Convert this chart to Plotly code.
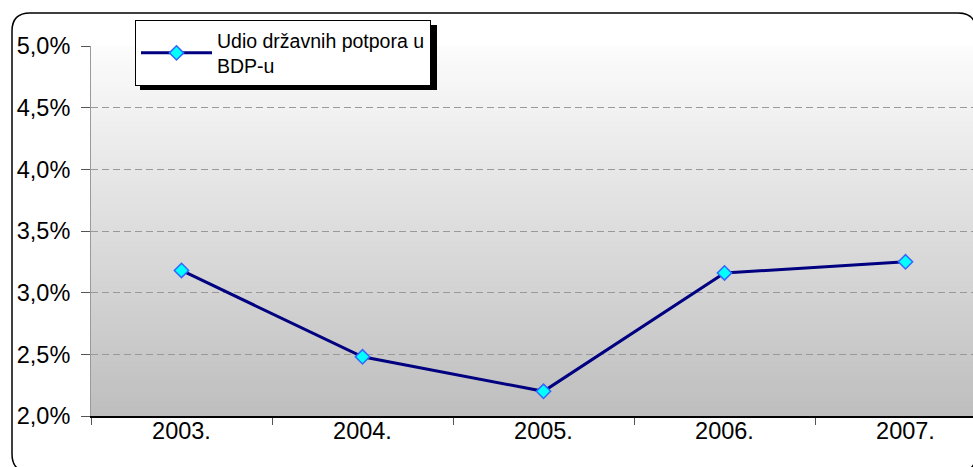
import plotly.graph_objects as go

# ---- data ----
years = ["2003.", "2004.", "2005.", "2006.", "2007."]
share_pct = [3.18, 2.48, 2.20, 3.16, 3.25]
series_name = "Udio državnih potpora u<br>BDP-u"
y_tick_vals = [2.0, 2.5, 3.0, 3.5, 4.0, 4.5, 5.0]
y_tick_labels = ["2,0%", "2,5%", "3,0%", "3,5%", "4,0%", "4,5%", "5,0%"]

W, H = 973, 467
L, T, B = 91, 46, 51
PW, PH = W - L, H - T - B


def xp(px):
    return (px - L) / PW


def yp(py):
    return (H - B - py) / PH


fig = go.Figure()
fig.add_trace(go.Scatter(
    x=years, y=share_pct, mode="lines+markers", name=series_name,
    line=dict(color="#000080", width=3),
    marker=dict(symbol="diamond", size=11, color="#00FFFF",
                line=dict(color="#3366FF", width=1.5)),
))

shapes = []
# vertical gradient background in plot area
N = 74
top_c, bot_c = 252, 190
for i in range(N):
    c = round(top_c + (bot_c - top_c) * (i + 0.5) / N)
    shapes.append(dict(type="rect", xref="x domain", yref="y domain",
                       x0=0, x1=1, y0=1 - (i + 1) / N, y1=1 - i / N,
                       fillcolor=f"rgb({c},{c},{c})", line=dict(width=0),
                       layer="below"))

# rounded chart border
bl, bt, br, bb, r = 12, 13, 976, 472, 18
path = (f"M {xp(bl)},{yp(bt + r)} Q {xp(bl)},{yp(bt)} {xp(bl + r)},{yp(bt)} "
        f"L {xp(br - r)},{yp(bt)} Q {xp(br)},{yp(bt)} {xp(br)},{yp(bt + r)} "
        f"L {xp(br)},{yp(bb - r)} Q {xp(br)},{yp(bb)} {xp(br - r)},{yp(bb)} "
        f"L {xp(bl + r)},{yp(bb)} Q {xp(bl)},{yp(bb)} {xp(bl)},{yp(bb - r)} Z")
shapes.append(dict(type="path", xref="paper", yref="paper", path=path,
                   line=dict(color="black", width=1.5), layer="above"))

# legend shadow
shapes.append(dict(type="rect", xref="paper", yref="paper",
                   x0=xp(140), x1=xp(437), y0=yp(90), y1=yp(25),
                   fillcolor="black", line=dict(width=0), layer="above"))

fig.update_layout(
    width=W, height=H,
    margin=dict(l=L, r=0, t=T, b=B, pad=0),
    paper_bgcolor="white",
    plot_bgcolor="rgba(0,0,0,0)",
    font=dict(family="Liberation Sans, Arial, sans-serif", color="black"),
    separators=",.",
    showlegend=True,
    legend=dict(
        x=xp(135), y=yp(20), xanchor="left", yanchor="top",
        bgcolor="white", bordercolor="black", borderwidth=1,
        font=dict(size=19.5, family="Liberation Sans, Arial, sans-serif"),
        itemwidth=71, tracegroupgap=0,
    ),
    shapes=shapes,
    xaxis=dict(
        type="category", range=[-0.5, -0.5 + PW / 181.0],
        showgrid=False, showline=True, linecolor="black", linewidth=1.5,
        ticks="outside", tickson="boundaries", ticklen=7, tickcolor="#555555",
        tickwidth=1, tickfont=dict(size=23.5), ticklabelstandoff=-7,
        fixedrange=True,
    ),
    yaxis=dict(
        range=[2.0, 5.0], tickvals=y_tick_vals, ticktext=y_tick_labels,
        showgrid=True, gridcolor="#999999", gridwidth=1, griddash="7px,4px",
        showline=True, linecolor="#9a9a9a", linewidth=1,
        ticks="outside", ticklen=9, tickcolor="#555555", tickwidth=1,
        tickfont=dict(size=23.5), ticklabelstandoff=6, zeroline=False,
        fixedrange=True,
    ),
)

fig.write_html(
    "out.html",
    config={"displayModeBar": False},
    post_script="document.body.style.margin='0';document.body.style.overflow='hidden';",
)
